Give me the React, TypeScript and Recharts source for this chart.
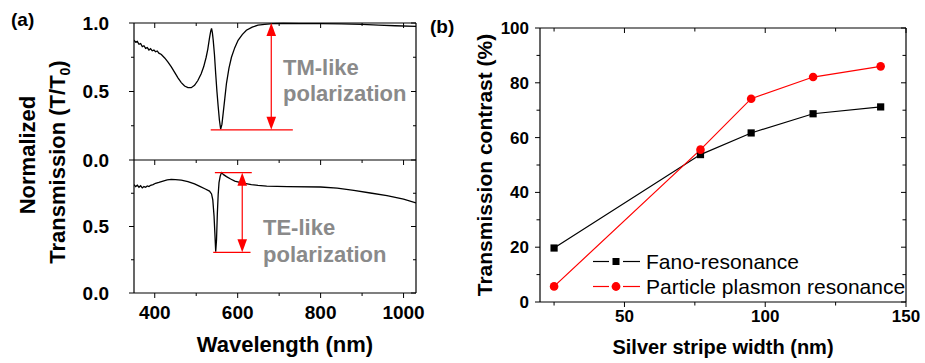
import React from "react";
import { LineChart, Line, XAxis, YAxis, ReferenceLine } from "recharts";

const FONT = "'Liberation Sans', Arial, Helvetica, sans-serif";
const RED = "#ff0000";
const GREY = "#8a8a8a";

// (a) TM-like spectrum
const tmWavelength = [350, 354, 358, 362, 366, 370, 374, 378, 382, 386, 390, 394, 398, 402, 406, 410, 416, 424, 432, 440, 448, 456, 464, 472, 480, 488, 496, 504, 512, 518, 524, 528, 532, 535, 537, 539, 541, 544, 547, 550, 553, 556, 559, 562, 565, 569, 573, 579, 585, 593, 601, 611, 621, 635, 649, 665, 685, 710, 750, 800, 850, 900, 940, 980, 1030];
const tmTransmission = [0.875, 0.86, 0.866, 0.845, 0.85, 0.828, 0.834, 0.815, 0.82, 0.803, 0.812, 0.797, 0.802, 0.79, 0.796, 0.78, 0.77, 0.745, 0.715, 0.68, 0.64, 0.6, 0.565, 0.54, 0.528, 0.528, 0.545, 0.58, 0.63, 0.68, 0.75, 0.81, 0.89, 0.94, 0.96, 0.93, 0.875, 0.77, 0.63, 0.5, 0.39, 0.29, 0.225, 0.26, 0.34, 0.45, 0.56, 0.67, 0.75, 0.82, 0.874, 0.915, 0.947, 0.97, 0.984, 0.99, 0.995, 0.997, 0.996, 0.995, 0.994, 0.99, 0.985, 0.98, 0.975];

// (a) TE-like spectrum
const teWavelength = [350, 354, 358, 362, 366, 370, 374, 378, 382, 386, 390, 396, 402, 410, 420, 430, 440, 450, 464, 480, 496, 510, 522, 532, 537, 540, 543, 545, 547, 549, 551, 553, 555, 558, 561, 566, 573, 583, 593, 605, 617, 633, 649, 670, 720, 800, 840, 880, 920, 960, 1000, 1030];
const teTransmission = [0.815, 0.8, 0.81, 0.795, 0.806, 0.79, 0.8, 0.795, 0.805, 0.8, 0.81, 0.815, 0.825, 0.832, 0.842, 0.85, 0.854, 0.853, 0.849, 0.838, 0.82, 0.8, 0.782, 0.766, 0.745, 0.7, 0.58, 0.45, 0.31, 0.4, 0.6, 0.74, 0.83, 0.88, 0.905, 0.89, 0.875, 0.857, 0.842, 0.832, 0.824, 0.815, 0.809, 0.804, 0.8, 0.797, 0.788, 0.772, 0.752, 0.732, 0.705, 0.677];

// (b) contrast vs. stripe width
const stripeWidth = [25, 77, 95, 117, 141];
const fanoContrast = [19.7, 53.8, 61.7, 68.7, 71.2];
const plasmonContrast = [5.7, 55.6, 74.2, 82.1, 86.0];
const seriesNames = ["Fano-resonance", "Particle plasmon resonance"];
const seriesColors = ["#000000", RED];

// ticks
const wlMajor = [400, 600, 800, 1000];
const wlMinor = [500, 700, 900];
const normMajor = [0, 0.5, 1];
const normMinor = [0.25, 0.75];
const widthMajor = [50, 100, 150];
const widthMinor = [25, 75, 125];
const contrastMajor = [0, 20, 40, 60, 80, 100];
const contrastMinor = [10, 30, 50, 70, 90];

const tmRows = tmWavelength.map((wl, i) => ({ wl, t: tmTransmission[i] }));
const teRows = teWavelength.map((wl, i) => ({ wl, t: teTransmission[i] }));
const bRows = stripeWidth.map((w, i) => ({ w, fano: fanoContrast[i], plasmon: plasmonContrast[i] }));

const tickA = { fill: "#000", fontSize: 19, fontWeight: "bold", fontFamily: FONT };
const tickB = { fill: "#000", fontSize: 17, fontWeight: "bold", fontFamily: FONT };

// short tick marks on a vertical reference line: at the bottom edge (pointing down)
// and at the top edge (pointing into the plot)
const vTicks = (len: number, bottom: boolean, top: boolean) => (p: any) => {
  const x = p.x1;
  const y0 = Math.min(p.y1, p.y2);
  const y1 = Math.max(p.y1, p.y2);
  return (
    <g stroke="#000" strokeWidth={1}>
      {bottom && <line x1={x} y1={y1} x2={x} y2={y1 + len} />}
      {top && <line x1={x} y1={y0} x2={x} y2={y0 + len} />}
    </g>
  );
};

// tick marks on a horizontal reference line: left edge outward, right edge inward
const hTicks = (len: number) => (p: any) => {
  const y = p.y1;
  const x0 = Math.min(p.x1, p.x2);
  const x1 = Math.max(p.x1, p.x2);
  return (
    <g stroke="#000" strokeWidth={1}>
      <line x1={x0 - len} y1={y} x2={x0} y2={y} />
      <line x1={x1 - len} y1={y} x2={x1} y2={y} />
    </g>
  );
};

// vertical double-headed arrow drawn between the two segment ends
const DoubleArrow = (p: any) => {
  const { x1, y1, y2 } = p;
  const top = Math.min(y1, y2);
  const bot = Math.max(y1, y2);
  const h = 13;
  const w = 4.8;
  return (
    <g>
      <line x1={x1} y1={top + 4} x2={x1} y2={bot - 4} stroke={RED} strokeWidth={1.2} />
      <polygon points={`${x1},${top} ${x1 - w},${top + h} ${x1 + w},${top + h}`} fill={RED} />
      <polygon points={`${x1},${bot} ${x1 - w},${bot - h} ${x1 + w},${bot - h}`} fill={RED} />
    </g>
  );
};

const SquareDot = (p: any) => (
  <rect key={`sq-${p.index}`} x={p.cx - 3.6} y={p.cy - 3.6} width={7.2} height={7.2} fill="#000" />
);

const frame = { stroke: "#000", strokeWidth: 1.2, ifOverflow: "visible" as const };

const App: React.FC = () => (
  <div style={{ position: "absolute", left: 0, top: 0, width: 925, height: 363, background: "#fff", overflow: "hidden" }}>
    {/* (a) top: TM-like */}
    <div style={{ position: "absolute", left: 0, top: 0 }}>
      <LineChart width={440} height={180} data={tmRows} margin={{ top: 23, right: 24, bottom: 20, left: 74 }}>
        <XAxis dataKey="wl" type="number" domain={[350, 1030]} allowDataOverflow hide />
        <YAxis type="number" domain={[0, 1]} ticks={normMajor} tickFormatter={(v: number) => v.toFixed(1)} tick={tickA} width={60} tickSize={5} tickMargin={20} axisLine={false} tickLine={false} />
        {wlMajor.map((v) => <ReferenceLine key={`xM${v}`} x={v} shape={vTicks(5, true, true)} />)}
        {wlMinor.map((v) => <ReferenceLine key={`xm${v}`} x={v} shape={vTicks(3, true, true)} />)}
        {normMajor.map((v) => <ReferenceLine key={`yM${v}`} y={v} shape={hTicks(5)} ifOverflow="visible" />)}
        {normMinor.map((v) => <ReferenceLine key={`ym${v}`} y={v} shape={hTicks(3)} />)}
        <ReferenceLine x={350} {...frame} />
        <ReferenceLine x={1030} {...frame} />
        <ReferenceLine y={0} {...frame} />
        <ReferenceLine y={1} {...frame} />
        <Line dataKey="t" stroke="#000" strokeWidth={1.3} dot={false} isAnimationActive={false} />
        <ReferenceLine segment={[{ x: 535, y: 0.22 }, { x: 733, y: 0.22 }]} stroke={RED} strokeWidth={1.2} />
        <ReferenceLine segment={[{ x: 681, y: 1 }, { x: 681, y: 0.22 }]} shape={DoubleArrow} />
      </LineChart>
    </div>

    {/* (a) bottom: TE-like */}
    <div style={{ position: "absolute", left: 0, top: 0 }}>
      <LineChart width={440} height={363} data={teRows} margin={{ top: 160, right: 24, bottom: 34, left: 74 }}>
        <XAxis
          dataKey="wl"
          type="number"
          domain={[350, 1030]}
          allowDataOverflow
          ticks={wlMajor}
          tick={tickA}
          height={36}
          tickSize={5}
          tickMargin={8}
          axisLine={false}
          tickLine={false}
          label={{ value: "Wavelength (nm)", position: "bottom", offset: 7, dx: 10, fill: "#000", fontSize: 22, fontWeight: "bold", fontFamily: FONT }}
        />
        <YAxis type="number" domain={[0, 1]} ticks={[0, 0.5]} tickFormatter={(v: number) => v.toFixed(1)} tick={tickA} width={60} tickSize={5} tickMargin={20} axisLine={false} tickLine={false} />
        {wlMajor.map((v) => <ReferenceLine key={`xM${v}`} x={v} shape={vTicks(5, true, false)} />)}
        {wlMinor.map((v) => <ReferenceLine key={`xm${v}`} x={v} shape={vTicks(3, true, false)} />)}
        {[0, 0.5].map((v) => <ReferenceLine key={`yM${v}`} y={v} shape={hTicks(5)} ifOverflow="visible" />)}
        {normMinor.map((v) => <ReferenceLine key={`ym${v}`} y={v} shape={hTicks(3)} />)}
        <ReferenceLine x={350} {...frame} />
        <ReferenceLine x={1030} {...frame} />
        <ReferenceLine y={0} {...frame} />
        <Line dataKey="t" stroke="#000" strokeWidth={1.3} dot={false} isAnimationActive={false} />
        <ReferenceLine segment={[{ x: 545, y: 0.905 }, { x: 634, y: 0.905 }]} stroke={RED} strokeWidth={1.2} />
        <ReferenceLine segment={[{ x: 541, y: 0.306 }, { x: 631, y: 0.306 }]} stroke={RED} strokeWidth={1.2} />
        <ReferenceLine segment={[{ x: 611, y: 0.905 }, { x: 611, y: 0.306 }]} shape={DoubleArrow} />
      </LineChart>
    </div>

    {/* (b) */}
    <div style={{ position: "absolute", left: 420, top: 0 }}>
      <LineChart width={505} height={363} data={bRows} margin={{ top: 28, right: 19, bottom: 31, left: 10 }}>
        <XAxis
          dataKey="w"
          type="number"
          domain={[20, 150]}
          allowDataOverflow
          ticks={widthMajor}
          tick={tickB}
          height={30}
          tickSize={5}
          tickMargin={3}
          axisLine={false}
          tickLine={false}
          label={{ value: "Silver stripe width (nm)", position: "bottom", offset: 8, fill: "#000", fontSize: 20, fontWeight: "bold", fontFamily: FONT }}
        />
        <YAxis
          type="number"
          domain={[0, 100]}
          allowDataOverflow
          ticks={contrastMajor}
          tick={tickB}
          width={110}
          tickSize={5}
          tickMargin={6}
          axisLine={false}
          tickLine={false}
          label={{ value: "Transmission contrast (%)", angle: -90, position: "center", fill: "#000", fontSize: 21, fontWeight: "bold", fontFamily: FONT }}
        />
        {widthMajor.map((v) => <ReferenceLine key={`xM${v}`} x={v} shape={vTicks(5, true, true)} ifOverflow="visible" />)}
        {widthMinor.map((v) => <ReferenceLine key={`xm${v}`} x={v} shape={vTicks(3.5, true, true)} />)}
        {contrastMajor.map((v) => <ReferenceLine key={`yM${v}`} y={v} shape={hTicks(5)} ifOverflow="visible" />)}
        {contrastMinor.map((v) => <ReferenceLine key={`ym${v}`} y={v} shape={hTicks(3.5)} />)}
        <ReferenceLine x={20} {...frame} />
        <ReferenceLine x={150} {...frame} />
        <ReferenceLine y={0} {...frame} />
        <ReferenceLine y={100} {...frame} />
        <Line dataKey="fano" name={seriesNames[0]} stroke={seriesColors[0]} strokeWidth={1.2} dot={SquareDot} isAnimationActive={false} />
        <Line dataKey="plasmon" name={seriesNames[1]} stroke={seriesColors[1]} strokeWidth={1.2} dot={{ r: 4.3, fill: RED, stroke: RED, strokeWidth: 0 }} isAnimationActive={false} />
      </LineChart>
    </div>

    {/* (b) legend, inside the plot box */}
    <div style={{ position: "absolute", left: 593, top: 249, fontFamily: FONT, fontSize: 21, color: "#000" }}>
      {seriesNames.map((name, i) => (
        <div key={name} style={{ display: "flex", alignItems: "center", height: 25, whiteSpace: "nowrap" }}>
          <svg width={53} height={25}>
            <line x1={0} y1={12.5} x2={16} y2={12.5} stroke={seriesColors[i]} strokeWidth={1.2} />
            <line x1={30} y1={12.5} x2={47} y2={12.5} stroke={seriesColors[i]} strokeWidth={1.2} />
            {i === 0 ? (
              <rect x={19.5} y={9} width={7} height={7} fill={seriesColors[i]} />
            ) : (
              <circle cx={23} cy={12.5} r={4.4} fill={seriesColors[i]} />
            )}
          </svg>
          <span>{name}</span>
        </div>
      ))}
    </div>

    {/* panel letters, shared y title and polarization notes */}
    <svg width={925} height={363} style={{ position: "absolute", left: 0, top: 0, pointerEvents: "none" }} fontFamily={FONT} fontWeight="bold">
      <text x={11} y={26} fontSize={19} fill="#000">(a)</text>
      <text x={430} y={33} fontSize={19} fill="#000">(b)</text>
      <text transform="translate(35,155) rotate(-90)" textAnchor="middle" fontSize={22} fill="#000">Normalized</text>
      <text transform="translate(65,162) rotate(-90)" textAnchor="middle" fontSize={22} fill="#000">
        Transmission (T/T<tspan fontSize={14} dy={5}>0</tspan><tspan dy={-5}>)</tspan>
      </text>
      <text x={283} y={75} fontSize={22} fill={GREY}>TM-like</text>
      <text x={283} y={101} fontSize={22} fill={GREY}>polarization</text>
      <text x={263} y={235} fontSize={22} fill={GREY}>TE-like</text>
      <text x={263} y={262} fontSize={22} fill={GREY}>polarization</text>
    </svg>
  </div>
);

export default App;
